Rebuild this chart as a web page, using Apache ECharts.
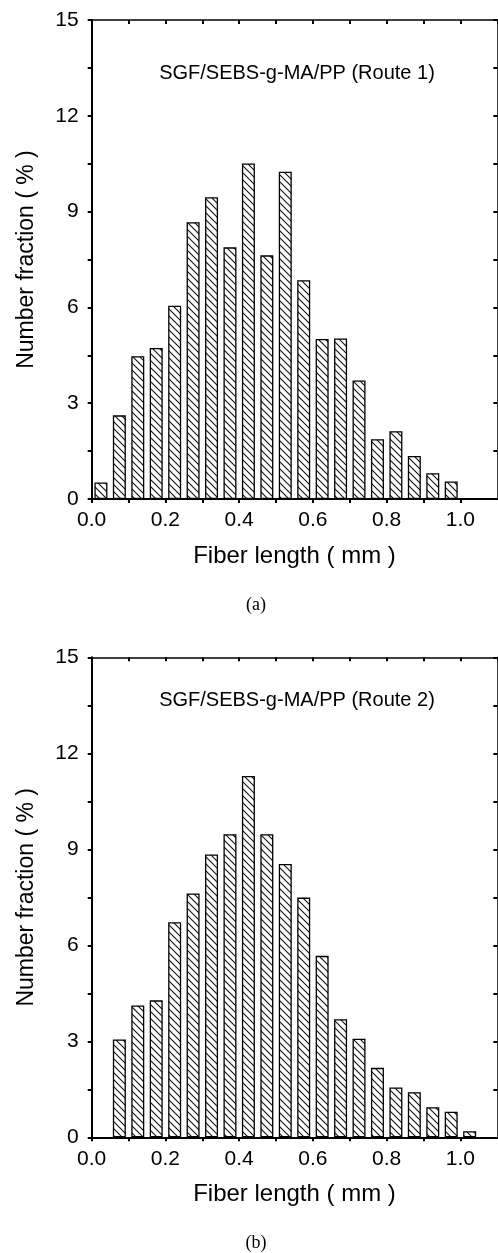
<!DOCTYPE html>
<html>
<head>
<meta charset="utf-8">
<script src="https://cdn.jsdelivr.net/npm/echarts@6/dist/echarts.min.js"></script>
<style>
  html, body { margin: 0; padding: 0; background: #ffffff; }
  #chart { width: 498px; height: 1253px; }
</style>
</head>
<body>
<div id="chart"></div>
<script>
// bin centres (mm), 0.05 mm bins
const binsA = [0.025, 0.075, 0.125, 0.175, 0.225, 0.275, 0.325, 0.375, 0.425, 0.475,
               0.525, 0.575, 0.625, 0.675, 0.725, 0.775, 0.825, 0.875, 0.925, 0.975];
const fractionA = [0.52, 2.62, 4.47, 4.73, 6.05, 8.67, 9.45, 7.88, 10.51, 7.63,
                   10.25, 6.85, 5.01, 5.03, 3.71, 1.87, 2.12, 1.35, 0.81, 0.55];

const binsB = [0.075, 0.125, 0.175, 0.225, 0.275, 0.325, 0.375, 0.425, 0.475, 0.525,
               0.575, 0.625, 0.675, 0.725, 0.775, 0.825, 0.875, 0.925, 0.975, 1.025];
const fractionB = [3.06, 4.12, 4.28, 6.72, 7.62, 8.84, 9.47, 11.29, 9.47, 8.54,
                   7.49, 5.67, 3.69, 3.08, 2.17, 1.56, 1.41, 0.94, 0.80, 0.19];

const xTicks = ['0.0', '0.2', '0.4', '0.6', '0.8', '1.0'];
const yTicks = ['0', '3', '6', '9', '12', '15'];

const titleA = 'SGF/SEBS-g-MA/PP (Route 1)';
const titleB = 'SGF/SEBS-g-MA/PP (Route 2)';
const xName = 'Fiber length ( mm )';
const yName = 'Number fraction ( % )';

// diagonal hatch "\\\" like the scanned figure
function makeHatch() {
  const c = document.createElement('canvas');
  c.width = 7;
  c.height = 7;
  const ctx = c.getContext('2d');
  ctx.fillStyle = '#ffffff';
  ctx.fillRect(0, 0, 7, 7);
  ctx.strokeStyle = '#111111';
  ctx.lineWidth = 1.1;
  ctx.beginPath();
  ctx.moveTo(-1, -1); ctx.lineTo(8, 8);
  ctx.moveTo(-1, 6); ctx.lineTo(1, 8);
  ctx.moveTo(6, -1); ctx.lineTo(8, 1);
  ctx.stroke();
  return c;
}
const hatch = makeHatch();

const labelFont = 'Liberation Sans, Arial, sans-serif';

const tickLabelStyle = {
  color: '#000',
  fontSize: 21,
  fontFamily: labelFont
};

function xLabel(value) {
  const i = Math.round(value * 10);
  if (i % 2 !== 0) return '';
  return xTicks[i / 2] || '';
}

function yLabel(value) {
  const i = Math.round(value / 1.5);
  if (i % 2 !== 0) return '';
  return yTicks[i / 2] || '';
}

function axesFor(gridIndex) {
  const xs = [
    {
      gridIndex: gridIndex,
      type: 'value',
      min: 0,
      max: 1.1,
      interval: 0.1,
      position: 'bottom',
      name: xName,
      nameLocation: 'middle',
      nameGap: 45,
      nameTextStyle: { color: '#000', fontSize: 24, fontFamily: labelFont },
      axisLine: { show: true, onZero: false, lineStyle: { color: '#000', width: 2 } },
      axisTick: { show: true, inside: false, length: 4, lineStyle: { color: '#000', width: 2 } },
      axisLabel: { ...tickLabelStyle, margin: 11, formatter: xLabel, showMaxLabel: false },
      splitLine: { show: false }
    },
    {
      gridIndex: gridIndex,
      type: 'value',
      min: 0,
      max: 1.1,
      interval: 0.1,
      position: 'top',
      axisLine: { show: true, onZero: false, lineStyle: { color: '#000', width: 1.5 } },
      axisTick: { show: true, inside: true, length: 4, lineStyle: { color: '#000', width: 2 } },
      axisLabel: { show: false },
      splitLine: { show: false }
    }
  ];
  const ys = [
    {
      gridIndex: gridIndex,
      type: 'value',
      min: 0,
      max: 15,
      interval: 1.5,
      position: 'left',
      name: yName,
      nameLocation: 'middle',
      nameGap: 54,
      nameTextStyle: { color: '#000', fontSize: 23, fontFamily: labelFont },
      axisLine: { show: true, onZero: false, lineStyle: { color: '#000', width: 2 } },
      axisTick: { show: true, inside: false, length: 4, lineStyle: { color: '#000', width: 2 } },
      axisLabel: { ...tickLabelStyle, margin: 13, formatter: yLabel },
      splitLine: { show: false }
    },
    {
      gridIndex: gridIndex,
      type: 'value',
      min: 0,
      max: 15,
      interval: 1.5,
      position: 'right',
      axisLine: { show: true, onZero: false, lineStyle: { color: '#000', width: 1.5 } },
      axisTick: { show: true, inside: true, length: 4, lineStyle: { color: '#000', width: 2 } },
      axisLabel: { show: false },
      splitLine: { show: false }
    }
  ];
  return { xs, ys };
}

const axA = axesFor(0);
const axB = axesFor(1);

function barSeries(bins, values, axisOffset) {
  return {
    type: 'bar',
    xAxisIndex: axisOffset,
    yAxisIndex: axisOffset,
    barWidth: 13,
    data: bins.map((x, i) => [x, values[i]]),
    itemStyle: {
      color: { image: hatch, repeat: 'repeat' },
      borderColor: '#000',
      borderWidth: 1.3
    },
    silent: true
  };
}

const option = {
  animation: false,
  backgroundColor: '#ffffff',
  grid: [
    { left: 91.7, top: 20, width: 405.6, height: 479 },
    { left: 91.7, top: 657.3, width: 405.6, height: 480 }
  ],
  xAxis: [...axA.xs, ...axB.xs],
  yAxis: [...axA.ys, ...axB.ys],
  series: [
    barSeries(binsA, fractionA, 0),
    barSeries(binsB, fractionB, 2)
  ],
  graphic: [
    {
      type: 'text',
      style: { text: titleA, x: 297, y: 73, textAlign: 'center', textVerticalAlign: 'middle',
               fill: '#000', font: '20px ' + labelFont }
    },
    {
      type: 'text',
      style: { text: titleB, x: 297, y: 700, textAlign: 'center', textVerticalAlign: 'middle',
               fill: '#000', font: '20px ' + labelFont }
    },
    {
      type: 'text',
      style: { text: '(a)', x: 256, y: 605, textAlign: 'center', textVerticalAlign: 'middle',
               fill: '#000', font: '18px Liberation Serif, Times New Roman, serif' }
    },
    {
      type: 'text',
      style: { text: '(b)', x: 256, y: 1243, textAlign: 'center', textVerticalAlign: 'middle',
               fill: '#000', font: '18px Liberation Serif, Times New Roman, serif' }
    }
  ]
};

var chartDom = document.getElementById('chart');
var myChart = echarts.init(chartDom);
myChart.setOption(option);
</script>
</body>
</html>
